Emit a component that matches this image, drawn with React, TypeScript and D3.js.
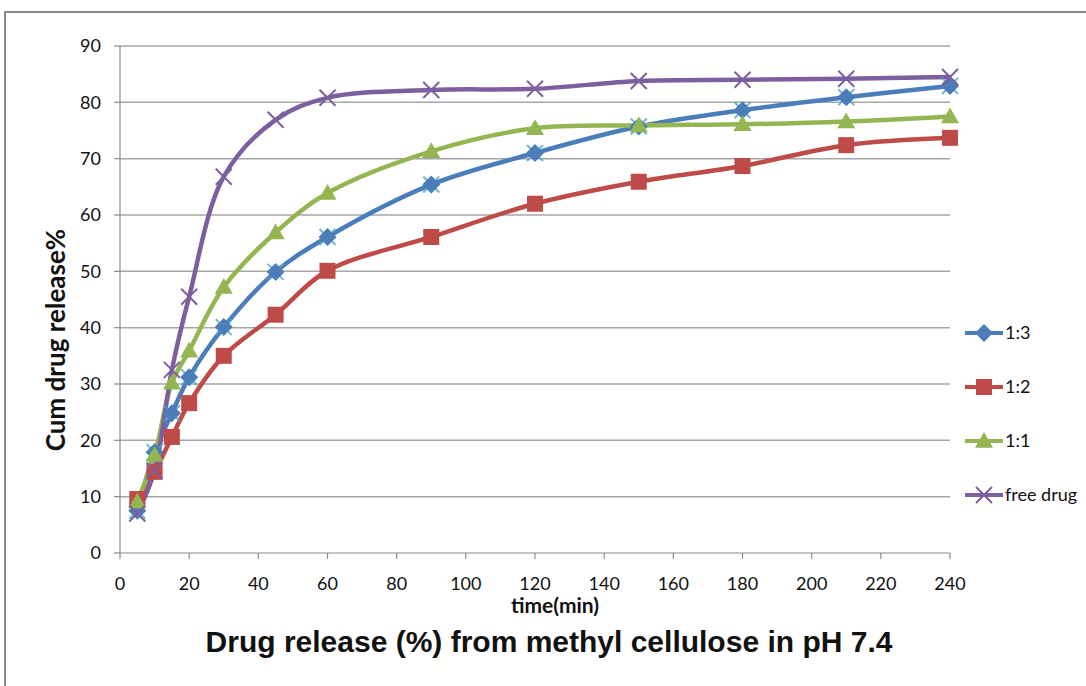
import React from "react";
import * as d3 from "d3";

// Sampling times (min)
const times = [5, 10, 15, 20, 30, 45, 60, 90, 120, 150, 180, 210, 240];

// Cumulative drug release (%) per drug:polymer ratio
const ratio13 = [7.5, 17.9, 24.8, 31.2, 40.1, 49.9, 56.1, 65.4, 71.0, 75.7, 78.6, 80.9, 82.9];
const ratio12 = [9.6, 14.4, 20.6, 26.6, 35.0, 42.3, 50.1, 56.1, 62.0, 65.9, 68.7, 72.4, 73.7];
const ratio11 = [9.1, 17.4, 30.2, 35.9, 47.2, 56.9, 63.9, 71.3, 75.4, 75.9, 76.1, 76.6, 77.5];
const freeDrug = [7.0, 14.6, 32.5, 45.5, 66.8, 76.9, 80.8, 82.2, 82.4, 83.8, 84.0, 84.2, 84.5];

const seriesNames = ["1:3", "1:2", "1:1", "free drug"];
const seriesColors = ["#4A7DBA", "#BE4B48", "#93B652", "#7D5FA0"];
const seriesMarkers = ["diamond", "square", "triangle", "cross"];

const xTicks = d3.range(0, 241, 20);
const yTicks = d3.range(0, 91, 10);

const W = 1086;
const H = 686;
const margin = { left: 120, right: 136, top: 46, bottom: 133 };

function Marker({ kind, x, y, color }: { kind: string; x: number; y: number; color: string }) {
  if (kind === "diamond") {
    const r = 9;
    return <path d={`M${x},${y - r}L${x + r},${y}L${x},${y + r}L${x - r},${y}Z`} fill={color} />;
  }
  if (kind === "square") {
    const r = 8;
    return <rect x={x - r} y={y - r} width={2 * r} height={2 * r} fill={color} />;
  }
  if (kind === "triangle") {
    const r = 9;
    return <path d={`M${x},${y - r}L${x + r},${y + r * 0.75}L${x - r},${y + r * 0.75}Z`} fill={color} />;
  }
  const r = 8;
  return (
    <path
      d={`M${x - r},${y - r}L${x + r},${y + r}M${x - r},${y + r}L${x + r},${y - r}`}
      stroke={color}
      strokeWidth={2}
      fill="none"
    />
  );
}

export default function App() {
  const x = d3.scaleLinear().domain([0, 240]).range([margin.left, W - margin.right]);
  const y = d3.scaleLinear().domain([0, 90]).range([H - margin.bottom, margin.top]);

  const allSeries = [ratio13, ratio12, ratio11, freeDrug];
  const line = d3
    .line<number>()
    .x((_, i) => x(times[i]))
    .y((v) => y(v))
    .curve(d3.curveCatmullRom.alpha(0.5));

  const bodyFont = "Lato, 'Open Sans', sans-serif";
  const titleFont = "'Liberation Sans', Arial, sans-serif";
  const x0 = x(0);
  const x1 = x(240);
  const yb = y(0);

  return (
    <svg
      width={W}
      height={H}
      style={{ position: "absolute", left: 0, top: 0, background: "#fff" }}
      fontFamily={bodyFont}
    >
      {/* chart frame */}
      <rect x={5} y={12} width={1200} height={900} fill="none" stroke="#8a8a8a" strokeWidth={2} />

      {/* horizontal gridlines */}
      {yTicks.map((t) =>
        t === 0 ? null : (
          <line key={t} x1={x0} x2={x1} y1={y(t)} y2={y(t)} stroke="#a6a6a6" strokeWidth={1.5} />
        )
      )}

      {/* y axis */}
      <line x1={x0} x2={x0} y1={y(90)} y2={yb} stroke="#8c8c8c" strokeWidth={1.2} />
      {yTicks.map((t) => (
        <g key={t}>
          <line x1={x0 - 6} x2={x0} y1={y(t)} y2={y(t)} stroke="#8c8c8c" strokeWidth={1.2} />
          <text x={x0 - 19} y={y(t)} dy="0.36em" textAnchor="end" fontSize={18} fill="#111">
            {t}
          </text>
        </g>
      ))}

      {/* x axis */}
      <line x1={x0} x2={x1} y1={yb} y2={yb} stroke="#8c8c8c" strokeWidth={1.2} />
      {xTicks.map((t) => (
        <g key={t}>
          <line x1={x(t)} x2={x(t)} y1={yb} y2={yb + 6} stroke="#8c8c8c" strokeWidth={1.2} />
          <text x={x(t)} y={yb + 37} textAnchor="middle" fontSize={18} fill="#111">
            {t}
          </text>
        </g>
      ))}

      {/* series */}
      {allSeries.map((vals, s) => (
        <path
          key={`l${s}`}
          d={line(vals) ?? ""}
          fill="none"
          stroke={seriesColors[s]}
          strokeWidth={4.5}
          strokeLinejoin="round"
        />
      ))}
      {/* faint companion markers under the 1:3 points */}
      {ratio13.map((v, i) => (
        <path
          key={`c${i}`}
          d={`M${x(times[i]) - 8},${y(v) - 8}L${x(times[i]) + 8},${y(v) + 8}M${x(times[i]) - 8},${y(v) + 8}L${x(times[i]) + 8},${y(v) - 8}`}
          stroke="#4bacc6"
          strokeWidth={2}
          opacity={0.8}
        />
      ))}
      {allSeries.map((vals, s) =>
        vals.map((v, i) => (
          <Marker key={`m${s}-${i}`} kind={seriesMarkers[s]} x={x(times[i])} y={y(v)} color={seriesColors[s]} />
        ))
      )}

      {/* axis titles */}
      <text x={555} y={613} textAnchor="middle" fontSize={21} fontWeight="bold" fill="#111">
        time(min)
      </text>
      <text
        transform={`translate(65,${340}) rotate(-90)`}
        textAnchor="middle"
        fontSize={26}
        fontWeight="bold"
        fill="#111"
      >
        Cum drug release%
      </text>
      <text
        x={549}
        y={652}
        textAnchor="middle"
        fontSize={30}
        fontWeight="bold"
        fill="#111"
        fontFamily={titleFont}
      >
        Drug release (%) from methyl cellulose in pH 7.4
      </text>

      {/* legend */}
      {seriesNames.map((name, s) => {
        const ly = 333 + s * 54;
        return (
          <g key={name}>
            <line x1={965} x2={1003} y1={ly} y2={ly} stroke={seriesColors[s]} strokeWidth={4} />
            <Marker kind={seriesMarkers[s]} x={984} y={ly} color={seriesColors[s]} />
            <text x={1005} y={ly} dy="0.36em" fontSize={18} fill="#111">
              {name}
            </text>
          </g>
        );
      })}
    </svg>
  );
}
